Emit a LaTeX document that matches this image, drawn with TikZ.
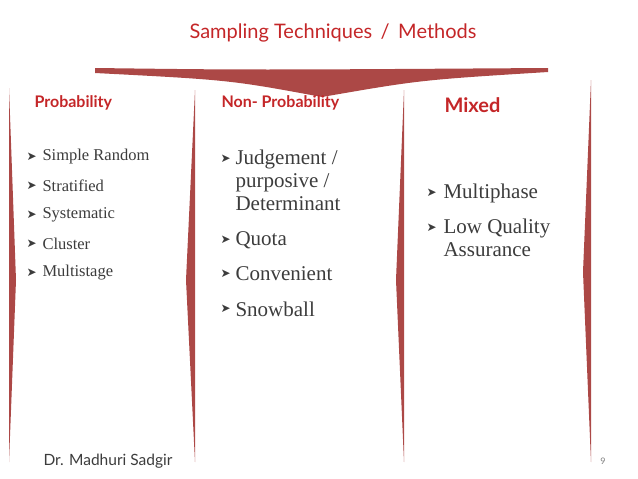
\documentclass[tikz,border=0pt]{standalone}
\usepackage{fontspec}
\setmainfont{Liberation Serif}
\newfontfamily\headfont{Lato}
\newfontfamily\symfont{DejaVu Sans}
\usepackage{xcolor}
\definecolor{Wine}{RGB}{172,72,70}
\definecolor{TitleRed}{RGB}{196,38,40}
\definecolor{Ink}{RGB}{60,60,60}
\usetikzlibrary{positioning}

\tikzset{
  heading/.style={anchor=west, color=TitleRed, font=\headfont\bfseries\fontsize{16}{18}\selectfont},
  smallitem/.style={anchor=west, color=Ink, font=\fontsize{16.5}{19}\selectfont},
  bigitem/.style={anchor=west, color=Ink, font=\fontsize{21}{23}\selectfont},
  bulletmark/.style={anchor=west, color=Ink, font=\symfont\fontsize{12}{14}\selectfont}
}

\begin{document}
\begin{tikzpicture}[x=1pt, y=-1pt]

		% Frame
		\useasboundingbox (0,0) rectangle (638,479);

		% Title
		\node[color=TitleRed, font=\headfont\fontsize{20}{24}\selectfont] (title) at (333,33) {Sampling Techniques \,/\, Methods};

		% Wedge
		\fill[Wine] (95,68) .. controls (250,70) .. (548,68) -- (548,72) .. controls (420,80) .. (322,97) .. controls (230,80) .. (95,73) -- cycle;

		% Dividers
		\fill[Wine] (9,88) -- (16,280) -- (9,462) -- cycle;
		\fill[Wine] (195,90) -- (186,280) -- (195,462) -- cycle;
		\fill[Wine] (404,90) -- (396,280) -- (404,462) -- cycle;
		\fill[Wine] (591,80) -- (583,272) -- (591,462) -- cycle;

		% Headings
		\node[heading] (prob) at (31,103) {Probability};
		\node[heading] (nonprob) at (218,103) {Non- Probability};
		\node[heading, font=\headfont\bfseries\fontsize{20}{22}\selectfont] (mixed) at (441,105) {Mixed};

		% Probability
		\foreach \t [count=\i] in {Simple Random, Stratified, Systematic, Cluster, Multistage} {
			\node[bulletmark] (pb\i) at (23,128+29*\i) {➤};
			\node[smallitem] (pi\i) at (39,128+29*\i) {\t};
		}

		% Non- Probability
		\node[bulletmark] (nb1) at (217,159) {➤};
		\node[bigitem, align=left, anchor=north west] (ni1) at (232,146) {Judgement /\\purposive /\\Determinant};
		\node[bulletmark] (nb2) at (217,240) {➤};
		\node[bigitem] (ni2) at (232,240) {Quota};
		\node[bulletmark] (nb3) at (217,274) {➤};
		\node[bigitem] (ni3) at (232,274) {Convenient};
		\node[bulletmark] (nb4) at (217,309) {➤};
		\node[bigitem] (ni4) at (232,309) {Snowball};

		% Mixed
		\node[bulletmark] (mb1) at (423,193) {➤};
		\node[bigitem] (mi1) at (440,193) {Multiphase};
		\node[bulletmark] (mb2) at (423,228) {➤};
		\node[bigitem, align=left, anchor=north west] (mi2) at (440,215) {Low Quality\\Assurance};

		% Footer
		\node[anchor=west, color=Ink, font=\headfont\fontsize{15.5}{18}\selectfont] (author) at (40,461) {Dr. Madhuri Sadgir};
		\node[color=gray, font=\headfont\fontsize{9}{11}\selectfont] (page) at (603,461) {9};

	\end{tikzpicture}
\end{document}
